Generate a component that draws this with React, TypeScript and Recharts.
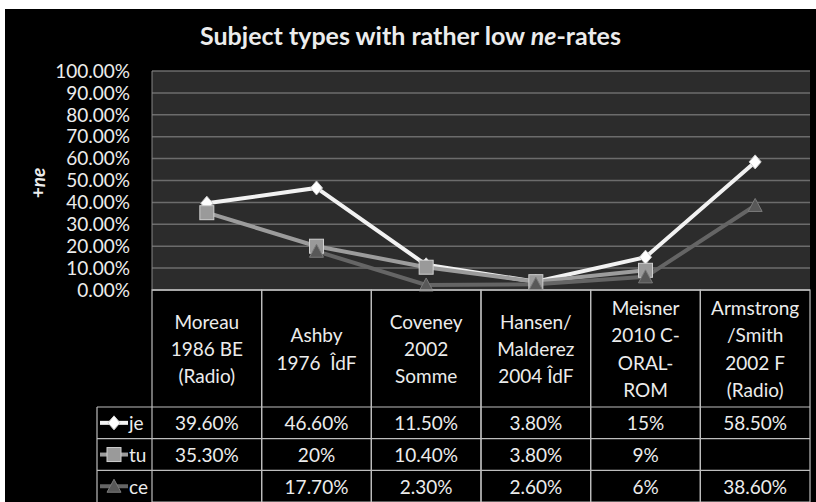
import React from "react";
import { ComposedChart, Line, XAxis, YAxis, CartesianGrid } from "recharts";

const CATEGORIES = [
  "Moreau\n1986 BE\n(Radio)",
  "Ashby\n1976  ÎdF",
  "Coveney\n2002\nSomme",
  "Hansen/\nMalderez\n2004 ÎdF",
  "Meisner\n2010 C-\nORAL-\nROM",
  "Armstrong\n/Smith\n2002 F\n(Radio)",
];
const JE = [39.6, 46.6, 11.5, 3.8, 15, 58.5];
const TU = [35.3, 20, 10.4, 3.8, 9, null];
const CE = [null, 17.7, 2.3, 2.6, 6, 38.6];
const Y_TICKS = [0, 10, 20, 30, 40, 50, 60, 70, 80, 90, 100];

const SERIES = [
  { key: "je", values: JE, color: "#f2f2f2", shape: "diamond" },
  { key: "tu", values: TU, color: "#9c9c9c", shape: "square" },
  { key: "ce", values: CE, color: "#656565", shape: "triangle" },
];

const data = CATEGORIES.map((name, i) => ({
  name,
  je: JE[i],
  tu: TU[i],
  ce: CE[i],
}));

const W = 811;
const H = 493;
const LEFT = 147;
const RIGHT = 6;
const BAND = (W - LEFT - RIGHT) / CATEGORIES.length;
const HEADER_H = 117;
const ROW_H = 31.7;
const BORDER = "#bdbdbd";
const TEXT = "#ececec";
const FONT = 19;

const fmt = (v: number | null) => {
  if (v == null) return "";
  return Number.isInteger(v) ? `${v}%` : `${v.toFixed(2)}%`;
};

function Marker({ shape, cx, cy }: any) {
  if (shape === "diamond")
    return (
      <polygon
        points={`${cx},${cy - 7} ${cx + 6},${cy} ${cx},${cy + 7} ${cx - 6},${cy}`}
        fill="#ffffff"
        stroke="#cfcfcf"
        strokeWidth={1}
      />
    );
  if (shape === "square")
    return (
      <rect x={cx - 7} y={cy - 7} width={14} height={14} fill="#9a9a9a" stroke="#d0d0d0" strokeWidth={1} />
    );
  return (
    <polygon
      points={`${cx},${cy - 7} ${cx + 7},${cy + 6} ${cx - 7},${cy + 6}`}
      fill="#585858"
      stroke="#7a7a7a"
      strokeWidth={1}
    />
  );
}

const makeDot = (shape: string) => (p: any) => {
  if (p.cy == null || p.value == null) return <g key={p.key} />;
  return (
    <g key={p.key}>
      <Marker shape={shape} cx={p.cx} cy={p.cy} />
    </g>
  );
};

function TableTick(props: any) {
  const { x, y, index } = props;
  const left = x - BAND / 2;
  const lines = CATEGORIES[index].split("\n");
  const mid = y + HEADER_H / 2;
  const lh = 27.3;
  const total = HEADER_H + ROW_H * 3;
  return (
    <g>
      <rect x={left} y={y} width={BAND} height={total} fill="none" stroke={BORDER} strokeWidth={1.2} />
      {[0, 1, 2].map((r) => (
        <line
          key={r}
          x1={index === 0 ? left - 55 : left}
          x2={left + BAND}
          y1={y + HEADER_H + ROW_H * r}
          y2={y + HEADER_H + ROW_H * r}
          stroke={BORDER}
          strokeWidth={1.2}
        />
      ))}
      {lines.map((t, i) => (
        <text
          key={i}
          x={x}
          y={mid + (i - (lines.length - 1) / 2) * lh}
          textAnchor="middle"
          dominantBaseline="central"
          fill={TEXT}
          fontSize={FONT}
          style={{ whiteSpace: "pre" }}
        >
          {t}
        </text>
      ))}
      {SERIES.map((s, r) => (
        <text
          key={s.key}
          x={x}
          y={y + HEADER_H + ROW_H * r + ROW_H / 2}
          textAnchor="middle"
          dominantBaseline="central"
          fill={TEXT}
          fontSize={FONT}
        >
          {fmt(s.values[index])}
        </text>
      ))}
      {index === 0 && (
        <g>
          <line x1={left - 55} x2={left - 55} y1={y + HEADER_H} y2={y + total} stroke={BORDER} strokeWidth={1.2} />
          {SERIES.map((s, r) => {
            const cy = y + HEADER_H + ROW_H * r + ROW_H / 2;
            return (
              <g key={s.key}>
                <line x1={left - 52} x2={left - 24} y1={cy} y2={cy} stroke={s.color} strokeWidth={4} />
                <Marker shape={s.shape} cx={left - 38} cy={cy} />
                <text x={left - 23} y={cy} dominantBaseline="central" fill={TEXT} fontSize={FONT}>
                  {s.key}
                </text>
              </g>
            );
          })}
        </g>
      )}
    </g>
  );
}

export default function App() {
  return (
    <div
      style={{
        position: "fixed",
        left: 0,
        top: 0,
        width: 816,
        height: 502,
        background: "#ffffff",
        fontFamily: "Lato, 'Noto Sans', sans-serif",
      }}
    >
      <div style={{ position: "absolute", left: 5, top: 9, width: W, height: H, background: "#000000" }}>
        <div
          style={{
            position: "absolute",
            left: 0,
            top: 11,
            width: W,
            textAlign: "center",
            color: TEXT,
            fontSize: 25,
            fontWeight: 700,
          }}
        >
          Subject types with rather low <i>ne</i>-rates
        </div>
        <ComposedChart
          width={W}
          height={H}
          data={data}
          margin={{ top: 62, right: RIGHT, bottom: 0, left: 0 }}
        >
          <CartesianGrid vertical={false} stroke="#6c6c6c" fill="#2c2c2c" strokeWidth={1.5} />
          <XAxis
            dataKey="name"
            scale="band"
            height={H - 62 - 219}
            tickLine={false}
            tickSize={0}
            tickMargin={0}
            axisLine={{ stroke: BORDER }}
            interval={0}
            tick={<TableTick />}
          />
          <YAxis
            domain={[0, 100]}
            ticks={Y_TICKS}
            interval={0}
            width={LEFT}
            tickLine={false}
            tickSize={0}
            tickMargin={22}
            axisLine={{ stroke: "#858585" }}
            tickFormatter={(v: number) => `${v.toFixed(2)}%`}
            tick={{ fill: TEXT, fontSize: FONT }}
            label={{
              content: () => (
                <text
                  x={32}
                  y={174}
                  transform="rotate(-90 32 174)"
                  textAnchor="middle"
                  dominantBaseline="central"
                  fill={TEXT}
                  fontSize={FONT}
                  fontWeight={700}
                >
                  +<tspan fontStyle="italic">ne</tspan>
                </text>
              ),
            }}
          />
          <YAxis
            yAxisId="r"
            orientation="right"
            width={0}
            domain={[0, 100]}
            tick={false}
            tickLine={false}
            axisLine={{ stroke: "#858585" }}
          />
          {SERIES.map((s) => (
            <Line
              key={s.key}
              dataKey={s.key}
              stroke={s.color}
              strokeWidth={4}
              dot={makeDot(s.shape)}
              activeDot={false}
              isAnimationActive={false}
            />
          ))}
        </ComposedChart>
      </div>
    </div>
  );
}
